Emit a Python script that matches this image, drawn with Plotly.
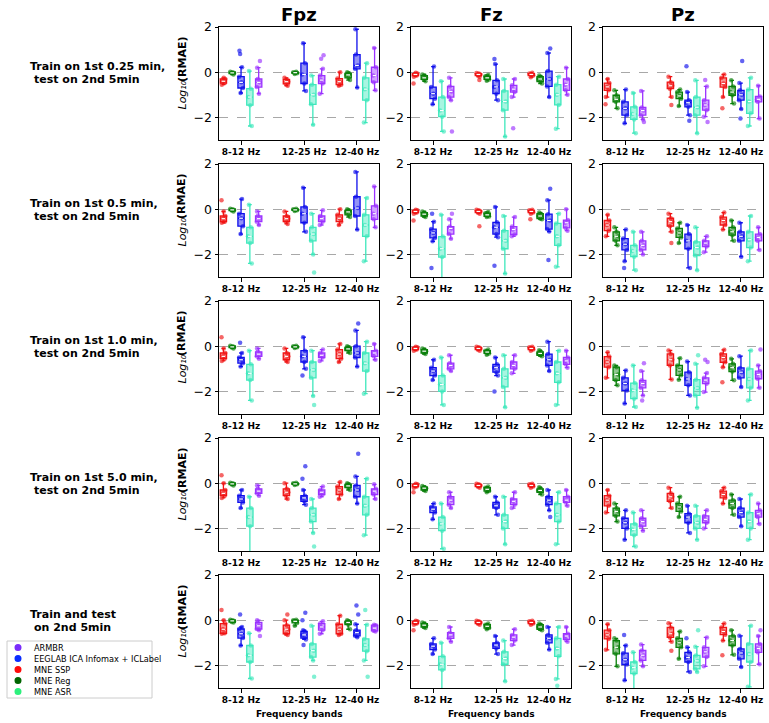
import plotly.graph_objects as go

# ---------------- data ----------------
BANDS = ["8-12 Hz", "12-25 Hz", "12-40 Hz"]
BAND_POS = [0.0, 1.0, 1.84]
CHANNELS = ["Fpz", "Fz", "Pz"]
CONDITIONS = [
    ("Train on 1st 0.25 min,", "test on 2nd 5min"),
    ("Train on 1st 0.5 min,", "test on 2nd 5min"),
    ("Train on 1st 1.0 min,", "test on 2nd 5min"),
    ("Train on 1st 5.0 min,", "test on 2nd 5min"),
    ("Train and test", "on 2nd 5min"),
]
# draw order inside each band group
METHODS = ["MNE SSP", "MNE Reg", "EEGLAB ICA Infomax + ICLabel", "MNE ASR", "ARMBR"]
LEGEND_ORDER = ["ARMBR", "EEGLAB ICA Infomax + ICLabel", "MNE SSP", "MNE Reg", "MNE ASR"]

# each entry: [lower whisker, q1, median, q3, upper whisker, *outliers]  (log10 RMAE)
# indexing: [condition row][channel][band]
SSP = [
    [[[-0.55, -0.48, -0.4, -0.3, -0.25], [-0.6, -0.52, -0.42, -0.32, -0.25], [-0.6, -0.55, -0.42, -0.28, 0.0]],
     [[-0.2, -0.15, -0.1, -0.06, -0.02, -0.5], [-0.2, -0.15, -0.1, -0.06, -0.03, -0.35], [-0.22, -0.15, -0.1, -0.06, -0.02]],
     [[-1.1, -0.8, -0.65, -0.48, -0.3, -1.42], [-1.1, -0.73, -0.6, -0.44, -0.2, -1.45], [-1.1, -0.66, -0.5, -0.25, -0.1, -1.6]]],
    [[[-0.6, -0.55, -0.42, -0.3, -0.1, 0.4], [-0.65, -0.55, -0.42, -0.3, -0.1], [-0.7, -0.55, -0.4, -0.25, 0.0]],
     [[-0.2, -0.15, -0.1, -0.05, -0.02, -0.5], [-0.2, -0.15, -0.1, -0.05, -0.02, -0.75], [-0.2, -0.15, -0.1, -0.05, -0.02, -0.45]],
     [[-1.2, -0.95, -0.7, -0.5, -0.25], [-1.0, -0.75, -0.55, -0.4, -0.2, -1.5], [-0.9, -0.7, -0.5, -0.35, -0.15]]],
    [[[-0.65, -0.55, -0.45, -0.3, -0.1, 0.4], [-0.7, -0.6, -0.45, -0.3, -0.1], [-0.7, -0.55, -0.35, -0.15, 0.1]],
     [[-0.2, -0.15, -0.1, -0.05, -0.02], [-0.2, -0.15, -0.1, -0.05, -0.02], [-0.2, -0.15, -0.1, -0.05, -0.02]],
     [[-1.4, -0.93, -0.7, -0.46, -0.27], [-1.47, -0.85, -0.6, -0.34, -0.19], [-0.93, -0.71, -0.5, -0.34, -0.16, -1.6]]],
    [[[-0.65, -0.55, -0.45, -0.3, 0.0, 0.35], [-0.7, -0.55, -0.4, -0.25, 0.0], [-0.7, -0.5, -0.3, -0.15, 0.05]],
     [[-0.2, -0.15, -0.1, -0.05, -0.02, -0.4], [-0.2, -0.15, -0.1, -0.05, -0.02], [-0.2, -0.15, -0.1, -0.05, -0.02]],
     [[-1.3, -1.0, -0.75, -0.55, -0.3], [-1.1, -0.8, -0.6, -0.45, -0.2], [-0.9, -0.65, -0.5, -0.35, -0.2]]],
    [[[-0.6, -0.58, -0.4, -0.15, 0.0, 0.45], [-0.65, -0.6, -0.4, -0.22, 0.0, 0.25], [-0.65, -0.6, -0.4, -0.18, 0.2]],
     [[-0.2, -0.15, -0.1, -0.05, -0.02, -0.45], [-0.2, -0.15, -0.1, -0.05, -0.02], [-0.2, -0.15, -0.1, -0.05, -0.02]],
     [[-1.31, -0.83, -0.65, -0.44, -0.18], [-0.95, -0.76, -0.6, -0.32, -0.13, -1.35], [-0.9, -0.64, -0.5, -0.32, -0.15, -1.55]]],
]

REG = [
    [[[-0.1, -0.06, -0.03, 0.0, 0.02], [-0.08, -0.05, -0.02, 0.0, 0.02], [-0.35, -0.25, -0.12, -0.05, 0.0]],
     [[-0.4, -0.32, -0.25, -0.15, -0.1], [-0.38, -0.32, -0.25, -0.18, -0.12], [-0.5, -0.42, -0.3, -0.2, -0.15]],
     [[-1.6, -1.31, -1.2, -1.02, -0.8], [-1.5, -1.17, -1.05, -0.88, -0.77], [-1.39, -1.02, -0.88, -0.63, -0.36]]],
    [[[-0.1, -0.06, -0.03, 0.0, 0.02], [-0.08, -0.05, -0.03, 0.0, 0.02], [-0.35, -0.25, -0.12, -0.05, 0.0]],
     [[-0.35, -0.3, -0.22, -0.15, -0.1], [-0.35, -0.32, -0.25, -0.18, -0.12], [-0.45, -0.42, -0.3, -0.2, -0.15]],
     [[-1.6, -1.4, -1.2, -1.0, -0.8], [-1.5, -1.25, -1.05, -0.85, -0.6], [-1.4, -1.15, -1.0, -0.8, -0.5]]],
    [[[-0.1, -0.06, -0.03, 0.0, 0.02], [-0.08, -0.05, -0.03, 0.0, 0.02], [-0.3, -0.2, -0.12, -0.05, 0.0]],
     [[-0.35, -0.3, -0.22, -0.15, -0.1], [-0.38, -0.32, -0.26, -0.2, -0.15], [-0.45, -0.4, -0.32, -0.25, -0.18]],
     [[-1.73, -1.51, -1.25, -0.93, -0.85], [-1.48, -1.29, -1.05, -0.85, -0.53], [-1.51, -1.12, -0.95, -0.78, -0.56]]],
    [[[-0.1, -0.06, -0.03, 0.0, 0.02], [-0.08, -0.05, -0.03, 0.0, 0.02], [-0.3, -0.2, -0.12, -0.05, 0.0]],
     [[-0.35, -0.3, -0.22, -0.18, -0.12], [-0.4, -0.35, -0.27, -0.2, -0.15], [-0.5, -0.4, -0.32, -0.25, -0.18]],
     [[-1.7, -1.45, -1.25, -1.1, -0.9], [-1.5, -1.25, -1.05, -0.9, -0.6], [-1.4, -1.1, -0.9, -0.75, -0.5]]],
    [[[-0.1, -0.08, -0.03, 0.0, 0.02], [-0.25, -0.12, -0.05, 0.0, 0.02], [-0.4, -0.2, -0.1, -0.05, 0.0]],
     [[-0.35, -0.3, -0.22, -0.15, -0.1], [-0.4, -0.35, -0.27, -0.2, -0.15], [-0.45, -0.4, -0.3, -0.2, -0.15]],
     [[-2.04, -1.49, -1.2, -0.9, -0.8], [-1.71, -1.2, -1.0, -0.8, -0.5], [-1.53, -1.12, -0.9, -0.69, -0.44]]],
]

ICA = [
    [[[-0.92, -0.7, -0.45, -0.2, 0.22, 0.8, 0.95], [-0.83, -0.5, -0.1, 0.4, 1.28], [-0.68, 0.15, 0.3, 0.78, 1.9]],
     [[-1.42, -1.17, -0.95, -0.66, 0.25], [-1.24, -0.95, -0.65, -0.36, 0.36, 0.58], [-1.1, -0.63, -0.3, 0.05, 0.85, 1.05]],
     [[-2.26, -1.9, -1.6, -1.31, -0.77], [-1.9, -1.53, -1.35, -1.24, -0.88, 0.26, -2.15], [-1.63, -1.24, -1.0, -0.8, -0.48, 0.5, -2.05]]],
    [[[-1.1, -0.75, -0.4, -0.2, 0.45], [-1.0, -0.6, -0.2, 0.1, 0.95], [-0.9, -0.3, 0.05, 0.55, 1.65]],
     [[-1.42, -1.27, -1.05, -0.88, -0.55, -0.2, -2.6], [-1.24, -1.1, -0.8, -0.58, 0.1, -2.5], [-0.99, -0.88, -0.5, -0.22, 0.4, 0.9, -2.25]],
     [[-2.3, -1.8, -1.55, -1.3, -0.9, -2.6], [-2.6, -1.75, -1.4, -1.1, -0.7], [-2.1, -1.4, -1.2, -1.0, -0.6]]],
    [[[-0.9, -0.75, -0.6, -0.5, -0.3, 0.15], [-1.0, -0.7, -0.45, -0.2, 0.4, -1.3], [-0.9, -0.5, -0.3, 0.0, 0.7, 1.0]],
     [[-1.5, -1.3, -1.1, -0.95, -0.6], [-1.3, -1.15, -0.95, -0.8, -0.5, -2.0], [-1.1, -0.85, -0.6, -0.35, 0.2]],
     [[-2.54, -1.96, -1.65, -1.4, -1.07], [-2.18, -1.73, -1.45, -1.15, -0.68], [-1.81, -1.4, -1.15, -0.96, -0.44]]],
    [[[-1.1, -0.85, -0.7, -0.55, -0.3], [-0.95, -0.8, -0.65, -0.55, -0.3, 0.2, 0.75], [-0.9, -0.6, -0.3, -0.1, 0.3, 1.3]],
     [[-1.6, -1.3, -1.15, -1.05, -0.9], [-1.4, -1.1, -1.0, -0.85, -0.6], [-1.2, -0.95, -0.75, -0.6, -0.3, -1.5]],
     [[-2.5, -2.0, -1.75, -1.55, -1.2], [-2.2, -1.75, -1.5, -1.35, -1.0], [-1.9, -1.5, -1.3, -1.1, -0.7]]],
    [[[-1.12, -0.79, -0.6, -0.39, -0.3, 0.25], [-0.85, -0.79, -0.65, -0.5, -0.44, 0.0, 0.33, -1.1], [-0.75, -0.69, -0.55, -0.44, -0.18, 0.25, 0.65]],
     [[-1.5, -1.3, -1.15, -1.05, -0.8], [-1.5, -1.25, -1.1, -1.0, -0.7], [-1.3, -1.0, -0.8, -0.65, -0.3]],
     [[-2.66, -1.96, -1.75, -1.46, -1.12, -0.65], [-2.29, -1.85, -1.65, -1.42, -1.2, -0.8], [-2.07, -1.71, -1.45, -1.27, -0.69]]],
]

ASR = [
    [[[-2.38, -1.46, -1.1, -0.73, 0.05], [-2.33, -1.42, -1.0, -0.55, -0.15], [-2.23, -1.24, -0.75, -0.25, 0.4]],
     [[-2.62, -1.97, -1.7, -1.1, -0.4, -3.2], [-2.85, -1.68, -1.3, -0.83, -0.3], [-2.5, -1.45, -1.0, -0.55, -0.2]],
     [[-2.7, -2.09, -1.85, -1.53, -0.92, -3.2], [-2.7, -1.9, -1.55, -1.1, -0.36], [-2.38, -1.82, -1.3, -0.77, -0.25]]],
    [[[-2.4, -1.5, -1.2, -0.8, 0.2], [-2.0, -1.4, -1.1, -0.8, -0.2, -2.8], [-2.3, -1.2, -0.7, -0.25, 0.5]],
     [[-3.2, -2.12, -1.75, -1.21, -0.25], [-2.85, -1.75, -1.4, -0.95, -0.3], [-2.55, -1.6, -1.2, -0.63, -0.2]],
     [[-2.7, -2.1, -1.85, -1.6, -1.0], [-2.7, -2.05, -1.7, -1.45, -0.8], [-2.3, -1.7, -1.35, -1.0, -0.3]]],
    [[[-2.4, -1.5, -1.2, -0.8, -0.2], [-2.2, -1.4, -1.05, -0.7, -0.2, -2.6], [-2.1, -1.1, -0.75, -0.3, 0.2]],
     [[-2.6, -2.0, -1.7, -1.3, -0.5], [-2.7, -1.8, -1.4, -1.0, -0.4], [-2.6, -1.6, -1.2, -0.7, -0.2]],
     [[-2.69, -2.32, -1.95, -1.63, -0.85], [-2.72, -2.18, -1.85, -1.48, -0.78, -0.4], [-2.4, -1.84, -1.45, -1.0, -0.19]]],
    [[[-3.1, -1.9, -1.5, -1.1, -0.6], [-2.2, -1.7, -1.4, -1.1, -0.7, -2.8], [-2.3, -1.4, -1.0, -0.6, 0.2]],
     [[-2.9, -2.1, -1.8, -1.5, -0.9], [-2.7, -2.0, -1.7, -1.4, -0.6], [-2.7, -1.7, -1.4, -0.9, -0.4]],
     [[-2.8, -2.3, -2.05, -1.8, -1.3], [-2.5, -2.0, -1.75, -1.45, -1.0], [-2.5, -2.0, -1.7, -1.3, -0.5]]],
    [[[-2.58, -1.85, -1.55, -1.12, -0.58], [-1.78, -1.63, -1.35, -1.05, -0.25, -2.5], [-1.78, -1.37, -1.1, -0.83, -0.2, 0.45, -2.5]],
     [[-3.1, -2.2, -1.95, -1.6, -1.0], [-2.7, -1.95, -1.7, -1.4, -0.9], [-2.6, -1.6, -1.25, -0.8, -0.3, -2.9]],
     [[-3.1, -2.36, -2.1, -1.85, -1.42], [-2.29, -2.15, -1.8, -1.56, -1.17, -0.45], [-2.95, -1.85, -1.5, -1.05, -0.25]]],
]

ARMBR = [
    [[[-0.95, -0.66, -0.45, -0.3, 0.2, 0.5], [-0.95, -0.5, -0.35, -0.15, 0.15, 0.6, 0.75], [-0.8, -0.44, -0.15, 0.22, 1.07]],
     [[-1.24, -1.1, -0.85, -0.63, -0.25, -2.62], [-1.1, -0.88, -0.75, -0.58, -0.3, -2.48], [-1.0, -0.8, -0.55, -0.3, 0.2]],
     [[-2.09, -1.9, -1.7, -1.56, -0.83, -2.2], [-1.97, -1.68, -1.45, -1.24, -0.63, -0.35, -2.2], [-2.05, -1.31, -1.2, -1.07, -0.6]]],
    [[[-0.7, -0.55, -0.42, -0.3, -0.1], [-0.7, -0.55, -0.42, -0.3, -0.05], [-0.8, -0.45, -0.2, 0.15, 1.0]],
     [[-1.31, -1.1, -0.85, -0.77, -0.44, -0.2], [-1.2, -1.12, -0.9, -0.77, -0.35], [-0.95, -0.83, -0.6, -0.48, 0.0]],
     [[-2.0, -1.8, -1.6, -1.4, -1.0], [-1.9, -1.65, -1.5, -1.4, -1.2], [-1.8, -1.4, -1.25, -1.1, -0.8]]],
    [[[-0.55, -0.45, -0.35, -0.25, -0.1], [-0.65, -0.5, -0.4, -0.3, -0.15], [-0.6, -0.45, -0.3, -0.2, 0.1]],
     [[-1.1, -1.0, -0.85, -0.75, -0.4], [-1.2, -1.0, -0.85, -0.7, -0.4], [-0.95, -0.8, -0.65, -0.5, -0.2]],
     [[-2.18, -1.84, -1.65, -1.51, -1.1, -0.75, -2.4], [-2.03, -1.66, -1.5, -1.4, -1.19, -0.6, -0.7], [-1.84, -1.44, -1.25, -1.1, -0.85, -0.15]]],
    [[[-0.55, -0.45, -0.35, -0.25, -0.1], [-0.6, -0.5, -0.4, -0.3, -0.15], [-0.7, -0.5, -0.35, -0.25, -0.05]],
     [[-1.1, -0.95, -0.75, -0.6, -0.4], [-1.1, -0.95, -0.8, -0.7, -0.4], [-1.0, -0.85, -0.75, -0.6, -0.3]],
     [[-2.1, -1.9, -1.7, -1.55, -1.2], [-2.0, -1.75, -1.6, -1.45, -1.2], [-1.8, -1.5, -1.35, -1.2, -0.9]]],
    [[[-0.45, -0.39, -0.25, -0.1, 0.0, -0.7], [-0.6, -0.44, -0.3, -0.15, -0.05], [-0.5, -0.47, -0.35, -0.22, -0.2]],
     [[-0.95, -0.8, -0.65, -0.55, -0.3], [-1.1, -0.9, -0.75, -0.65, -0.4], [-0.95, -0.85, -0.7, -0.6, -0.3]],
     [[-2.04, -1.78, -1.55, -1.34, -1.08], [-2.04, -1.63, -1.4, -1.2, -0.76], [-1.95, -1.42, -1.25, -1.05, -0.7, -0.45]]],
]

# ---------------- style ----------------
DATA = {"MNE SSP": SSP, "MNE Reg": REG, "EEGLAB ICA Infomax + ICLabel": ICA, "MNE ASR": ASR, "ARMBR": ARMBR}
BOX_COLORS = {"MNE SSP": (240, 20, 20), "MNE Reg": (10, 128, 10), "EEGLAB ICA Infomax + ICLabel": (15, 15, 235),
              "MNE ASR": (62, 232, 188), "ARMBR": (155, 50, 255)}
LEGEND_COLORS = {"ARMBR": "#7a2dfb", "EEGLAB ICA Infomax + ICLabel": "#0a2cff", "MNE SSP": "#ff0a0a",
                 "MNE Reg": "#006400", "MNE ASR": "#2cf07c"}
HUE_OFFSETS = [-0.28, -0.14, 0.0, 0.14, 0.28]
JITTER = [-0.025, 0.02, -0.008, 0.03, 0.005, -0.03, 0.015, -0.015]

W, H = 769, 723
COL_X = [219, 411, 603]
PANEL_W = 160
ROW_TOP = [27, 164, 301, 438, 575]
PANEL_H = 113
FONT = "DejaVu Sans"


def rgba(c, a):
    return "rgba(%d,%d,%d,%.2f)" % (c[0], c[1], c[2], a)


def pap_y(py):
    return 1 - py / H


fig = go.Figure()
layout = dict(
    width=W, height=H, margin=dict(l=0, r=0, t=0, b=0),
    paper_bgcolor="white", plot_bgcolor="white",
    font=dict(family=FONT, color="black"),
    showlegend=False, boxmode="overlay",
)
annotations = []
shapes = []

for r in range(5):
    for c in range(3):
        k = r * 3 + c + 1
        xs = "" if k == 1 else str(k)
        x0 = COL_X[c] / W
        x1 = (COL_X[c] + PANEL_W) / W
        y1 = pap_y(ROW_TOP[r])
        y0 = pap_y(ROW_TOP[r] + PANEL_H)
        layout["xaxis" + xs] = dict(
            domain=[x0, x1], anchor="y" + xs, range=[-0.35, 2.19],
            tickvals=BAND_POS, ticktext=BANDS,
            tickfont=dict(size=9, family=FONT, weight="bold"),
            ticks="outside", ticklen=3.5, tickwidth=1, tickcolor="black",
            showline=True, mirror=True, linecolor="black", linewidth=1,
            showgrid=False, zeroline=False, automargin=False,
        )
        layout["yaxis" + xs] = dict(
            domain=[y0, y1], anchor="x" + xs, range=[-3, 2],
            tickvals=[-2, 0, 2], tickfont=dict(size=12.5, family=FONT),
            ticks="outside", ticklen=3.5, tickwidth=1, tickcolor="black",
            showline=True, mirror=True, linecolor="black", linewidth=1,
            showgrid=True, gridcolor="#a8a8a8", griddash="dash", gridwidth=0.9,
            zeroline=False, automargin=False,
        )
        for m_i, m in enumerate(METHODS):
            stats = DATA[m][r][c]
            col = BOX_COLORS[m]
            xpos = [BAND_POS[b] + HUE_OFFSETS[m_i] for b in range(3)]
            fig.add_trace(go.Box(
                x=xpos,
                lowerfence=[s[0] for s in stats], q1=[s[1] for s in stats],
                median=[s[2] for s in stats], q3=[s[3] for s in stats],
                upperfence=[s[4] for s in stats],
                width=0.1, whiskerwidth=0.6, boxpoints=False,
                line=dict(color=rgba(col, 1), width=1.3), fillcolor=rgba(col, 0.45),
                xaxis="x" + xs, yaxis="y" + xs, hoverinfo="skip",
            ))
            px, py = [], []
            for b in range(3):
                for j, v in enumerate(stats[b]):
                    px.append(xpos[b] + JITTER[(j + b + m_i) % len(JITTER)])
                    py.append(v)
            fig.add_trace(go.Scatter(
                x=px, y=py, mode="markers",
                marker=dict(size=4.5, color=rgba(col, 0.65), line=dict(width=0)),
                xaxis="x" + xs, yaxis="y" + xs, hoverinfo="skip",
            ))
            mx, my = [], []
            for b in range(3):
                mx += [xpos[b] - 0.03, xpos[b] + 0.03, None]
                my += [stats[b][2], stats[b][2], None]
            fig.add_trace(go.Scatter(
                x=mx, y=my, mode="lines", line=dict(color="white", width=1.2),
                xaxis="x" + xs, yaxis="y" + xs, hoverinfo="skip",
            ))
        if r == 4:
            annotations.append(dict(
                text="Frequency bands", x=(COL_X[c] + PANEL_W / 2) / W, y=pap_y(714),
                xref="paper", yref="paper", showarrow=False,
                font=dict(size=9, family=FONT, weight="bold"),
                xanchor="center", yanchor="middle",
            ))
        if r == 0:
            annotations.append(dict(
                text=CHANNELS[c], x=(COL_X[c] + PANEL_W / 2) / W, y=pap_y(14),
                xref="paper", yref="paper", showarrow=False,
                font=dict(size=18, family=FONT, weight="bold"),
                xanchor="center", yanchor="middle",
            ))
    # y-axis title of the first column: "Log10" (italic) + "(RMAE)" (bold), reading upward
    yc = ROW_TOP[r] + 46
    annotations.append(dict(
        text="Log\u2081\u2080", textangle=-90, x=182 / W, y=pap_y(yc + 22.5),
        xref="paper", yref="paper", showarrow=False,
        font=dict(size=11, family=FONT, style="italic"), xanchor="center", yanchor="middle",
    ))
    annotations.append(dict(
        text="(RMAE)", textangle=-90, x=182 / W, y=pap_y(yc - 14),
        xref="paper", yref="paper", showarrow=False,
        font=dict(size=11, family=FONT, weight="bold"), xanchor="center", yanchor="middle",
    ))
    # row (condition) label, two lines, second one indented by a space
    l1, l2 = CONDITIONS[r]
    annotations.append(dict(
        text=l1, x=28 / W, y=pap_y(yc - 6.5), xref="paper", yref="paper", showarrow=False,
        font=dict(size=11, family=FONT, weight="bold"), xanchor="left", yanchor="middle",
    ))
    annotations.append(dict(
        text=l2, x=32 / W, y=pap_y(yc + 6.5), xref="paper", yref="paper", showarrow=False,
        font=dict(size=11, family=FONT, weight="bold"), xanchor="left", yanchor="middle",
    ))

# legend box (drawn manually to match the compact matplotlib legend)
shapes.append(dict(type="rect", xref="paper", yref="paper", x0=7 / W, x1=152 / W,
                   y0=pap_y(698), y1=pap_y(641), line=dict(color="#cccccc", width=1),
                   fillcolor="white"))
for i, name in enumerate(LEGEND_ORDER):
    cy = 647.5 + 11 * i
    shapes.append(dict(type="circle", xref="paper", yref="paper",
                       x0=14.5 / W, x1=21.5 / W, y0=pap_y(cy + 3.5), y1=pap_y(cy - 3.5),
                       line=dict(width=0), fillcolor=LEGEND_COLORS[name]))
    annotations.append(dict(text=name, x=32 / W, y=pap_y(cy), xref="paper", yref="paper",
                            showarrow=False, xanchor="left", yanchor="middle",
                            font=dict(size=8.2, family=FONT)))

layout["annotations"] = annotations
layout["shapes"] = shapes
fig.update_layout(**layout)
fig.write_html("out.html")
